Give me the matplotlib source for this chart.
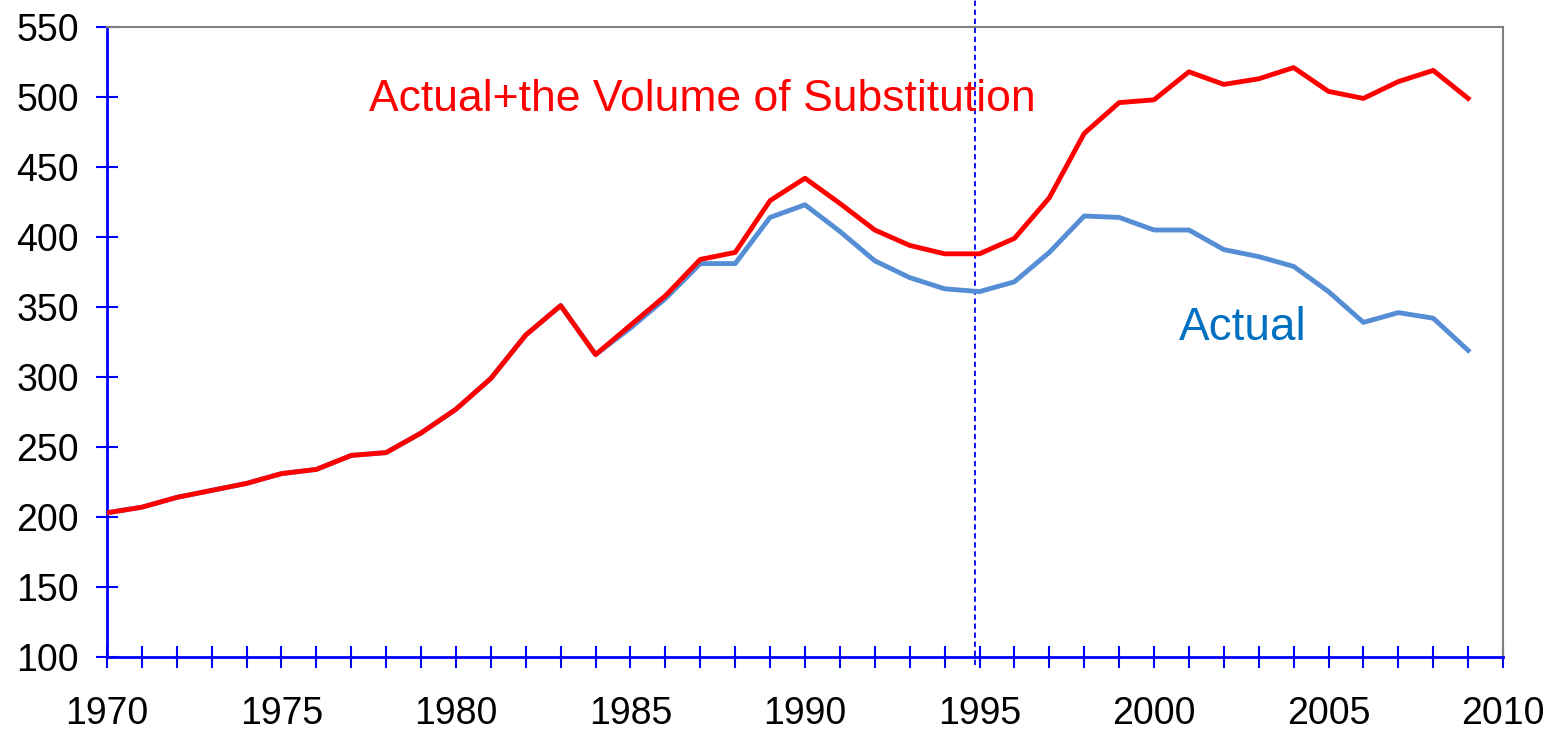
import matplotlib.pyplot as plt
import numpy as np

plt.rcParams['font.family'] = ['Liberation Sans', 'DejaVu Sans']

years = np.arange(1970, 2010)

# Actual + the volume of substitution
total = [203, 207, 214, 219, 224, 231, 234, 244, 246, 260,
         277, 299, 330, 351, 316, 337, 358, 384, 389, 426,
         442, 424, 405, 394, 388, 388, 399, 428, 474, 496,
         498, 518, 509, 513, 521, 504, 499, 511, 519, 499]

# Actual
actual = [203, 207, 214, 219, 224, 231, 234, 244, 246, 260,
          277, 299, 330, 351, 316, 335, 356, 381, 381, 414,
          423, 404, 383, 371, 363, 361, 368, 389, 415, 414,
          405, 405, 391, 386, 379, 361, 339, 346, 342, 319]

fig = plt.figure(figsize=(15.5, 7.3), dpi=100)
ax = fig.add_axes([0.069, 0.1, 0.9007, 0.863])

ax.plot(years, actual, color='#558ED5', linewidth=3.5, zorder=3)
ax.plot(years, total, color='#FF0000', linewidth=3.5, zorder=4)
ax.axvline(1994.87, ymin=-0.013, ymax=1.045, clip_on=False, color='#0000FF',
           linestyle=(0, (3, 2)), linewidth=1.3, zorder=2)

ax.set_xlim(1970, 2010)
ax.set_ylim(100, 550)
ax.set_xticks(np.arange(1970, 2011, 5))
ax.set_xticks(np.arange(1970, 2011, 1), minor=True)
ax.set_yticks(np.arange(100, 551, 50))

for s in ['left', 'bottom']:
    ax.spines[s].set_color('#0000FF')
    ax.spines[s].set_linewidth(2.0)
for s in ['top', 'right']:
    ax.spines[s].set_color('#808080')
    ax.spines[s].set_linewidth(1.5)

ax.tick_params(axis='both', which='both', direction='inout', color='#0000FF', width=1.5)
ax.tick_params(axis='x', which='both', length=16, pad=20)
ax.tick_params(axis='y', length=16, pad=12)
ax.tick_params(labelsize=27)

ax.text(1977.5, 498, 'Actual+the Volume of Substitution', color='#FF0000', fontsize=32,
        va='center', ha='left')
ax.text(2000.7, 335, 'Actual', color='#0070C0', fontsize=33, va='center', ha='left')

fig.savefig('out.png', dpi=100)
